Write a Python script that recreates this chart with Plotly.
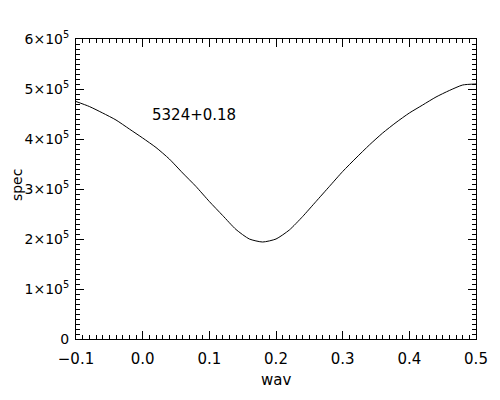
import plotly.graph_objects as go

wav = [-0.10, -0.08, -0.06, -0.04, -0.02, 0.00, 0.02, 0.04, 0.06, 0.08, 0.10,
       0.12, 0.14, 0.16, 0.18, 0.20, 0.22, 0.24, 0.26, 0.28, 0.30, 0.32, 0.34,
       0.36, 0.38, 0.40, 0.42, 0.44, 0.46, 0.48, 0.50]
spec = [4.75e5, 4.65e5, 4.52e5, 4.38e5, 4.20e5, 4.02e5, 3.83e5, 3.60e5, 3.32e5,
        3.05e5, 2.75e5, 2.47e5, 2.19e5, 2.00e5, 1.94e5, 2.00e5, 2.18e5, 2.45e5,
        2.75e5, 3.05e5, 3.35e5, 3.62e5, 3.88e5, 4.12e5, 4.33e5, 4.52e5, 4.68e5,
        4.84e5, 4.97e5, 5.08e5, 5.10e5]

x_ticks = [-0.1, 0.0, 0.1, 0.2, 0.3, 0.4, 0.5]
x_ticklabels = ["\u22120.1", "0.0", "0.1", "0.2", "0.3", "0.4", "0.5"]
y_ticks = [0, 1e5, 2e5, 3e5, 4e5, 5e5, 6e5]
y_ticklabels = ["0"] + [f"{i}\u00d710<sup>5</sup>" for i in range(1, 7)]
x_title = "wav"
y_title = "spec"
label_text = "5324+0.18"
label_pos = (0.011, 4.48e5)

font = dict(family="DejaVu Sans, sans-serif", size=15, color="black")
yfont = dict(family="DejaVu Sans, sans-serif", size=14, color="black")

fig = go.Figure()
fig.add_trace(go.Scatter(x=wav, y=spec, mode="lines", line_shape="spline",
                         line=dict(color="black", width=1, smoothing=0.6), showlegend=False))
fig.add_annotation(x=label_pos[0], y=label_pos[1], text=label_text,
                   showarrow=False, xanchor="left", yanchor="middle",
                   font=font)
fig.add_annotation(xref="paper", yref="paper", x=0.5, y=0, yshift=-41,
                   text=x_title, showarrow=False, xanchor="center", yanchor="middle",
                   font=font)
fig.add_annotation(xref="paper", yref="paper", x=0, y=0.513, xshift=-59,
                   text=y_title, showarrow=False, textangle=-90,
                   xanchor="center", yanchor="middle", font=yfont)

axis_common = dict(showgrid=False, zeroline=False, showline=True, linecolor="black",
                   linewidth=1, mirror="ticks", ticks="inside", ticklen=8,
                   tickwidth=1, tickcolor="black", automargin=False)

fig.update_xaxes(range=[-0.1, 0.5], tickvals=x_ticks, ticktext=x_ticklabels,
                 ticklabelstandoff=6, tickfont=font,
                 minor=dict(dtick=0.01, ticks="inside", ticklen=4, tickcolor="black", tickwidth=1),
                 **axis_common)
fig.update_yaxes(range=[0, 6e5], tickvals=y_ticks, ticktext=y_ticklabels,
                 ticklabelstandoff=3, tickfont=yfont,
                 minor=dict(dtick=1e4, ticks="inside", ticklen=4, tickcolor="black", tickwidth=1),
                 **axis_common)

fig.update_layout(width=500, height=400, plot_bgcolor="white", paper_bgcolor="white",
                  margin=dict(l=68, r=32, t=31, b=69), font=font)

fig.write_html("out.html")
